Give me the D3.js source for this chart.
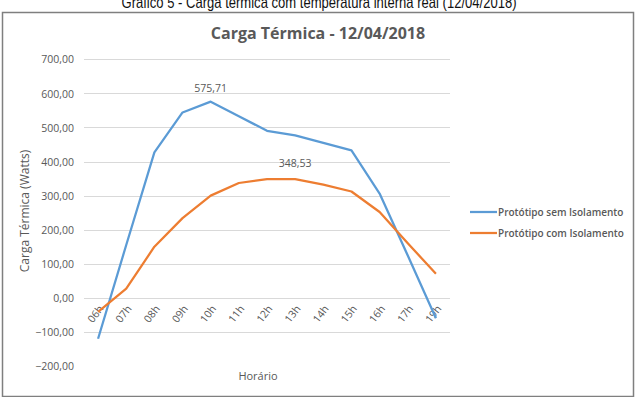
<!DOCTYPE html>
<html><head><meta charset="utf-8">
<script src="https://cdn.jsdelivr.net/npm/d3@7"></script>
<style>body{margin:0;background:#fff}svg{display:block}</style>
</head><body>
<svg id="c" width="639" height="397"></svg>
<script>
const categories = ["06h","07h","08h","09h","10h","11h","12h","13h","14h","15h","16h","17h","19h"];
const semIsolamento = [-120, 155, 427, 544, 575.71, 533, 490, 477, 455, 433, 306, 124, -60];
const comIsolamento = [-41, 27, 150, 234, 300, 337, 348.5, 348.53, 332, 312, 252, 160, 71];
const seriesNames = ["Protótipo sem Isolamento", "Protótipo com Isolamento"];
const yTicks = [-200, -100, 0, 100, 200, 300, 400, 500, 600, 700];
const gridTicks = [-100, 0, 100, 200, 300, 400, 500, 600, 700];
const colors = ["#5B9BD5", "#ED7D31"];

const svg = d3.select("#c");
const font = "'Open Sans', sans-serif";

// outer caption (cropped at top, as in the source)
svg.append("text").attr("x", 319).attr("y", 8).attr("text-anchor", "middle")
  .attr("font-family", "'Liberation Sans', Arial, sans-serif").attr("font-size", 17).attr("fill", "#111")
  .attr("textLength", 395).attr("lengthAdjust", "spacingAndGlyphs")
  .text("Gráfico 5 - Carga térmica com temperatura interna real (12/04/2018)");

// chart border
svg.append("rect").attr("x", 2.5).attr("y", 12.5).attr("width", 631).attr("height", 384)
  .attr("fill", "#fff").attr("stroke", "#7f7f7f").attr("stroke-width", 1.5);

const x = d3.scaleBand().domain(categories).range([84, 450]);
const y = d3.scaleLinear().domain([-200, 700]).range([366, 59.3]);

// title
svg.append("text").attr("x", 318).attr("y", 39).attr("text-anchor", "middle")
  .attr("font-family", font).attr("font-weight", "bold").attr("font-size", 16).attr("fill", "#595959")
  .text("Carga Térmica - 12/04/2018");

// gridlines
svg.append("g").selectAll("line").data(gridTicks).join("line")
  .attr("x1", 84).attr("x2", 450)
  .attr("y1", d => Math.round(y(d)) + 0.5).attr("y2", d => Math.round(y(d)) + 0.5)
  .attr("stroke", "#d9d9d9").attr("stroke-width", 1);

// y axis labels
const yAxis = d3.axisLeft(y).tickValues(yTicks).tickSize(0).tickPadding(0)
  .tickFormat(d => d3.format(",.2f")(d).replace(".", "#").replace(",", ".").replace("#", ","));
const ga = svg.append("g").attr("transform", "translate(74,0)").call(yAxis);
ga.select(".domain").remove();
ga.selectAll("text").attr("font-family", font).attr("font-size", 10.5).attr("fill", "#595959")
  .attr("dy", "0.35em");

// y axis title
svg.append("text").attr("transform", "translate(29,211) rotate(-90)").attr("text-anchor", "middle")
  .attr("font-family", font).attr("font-size", 12).attr("fill", "#595959")
  .text("Carga Térmica (Watts)");

// x axis labels
const xAxis = d3.axisBottom(x).tickSize(0).tickPadding(0);
const gx = svg.append("g").attr("transform", "translate(0," + y(0) + ")").call(xAxis);
gx.select(".domain").remove();
gx.selectAll("text").attr("font-family", font).attr("font-size", 10.5).attr("fill", "#595959")
  .attr("text-anchor", "end").attr("dy", 0).attr("y", 0)
  .attr("transform", "translate(6,11) rotate(-52)");

// x axis title
svg.append("text").attr("x", 258).attr("y", 380).attr("text-anchor", "middle")
  .attr("font-family", font).attr("font-size", 11).attr("fill", "#595959").text("Horário");

// lines
const line = d3.line().x((d, i) => x(categories[i]) + x.bandwidth() / 2).y(d => y(d));
[semIsolamento, comIsolamento].forEach((s, k) => {
  svg.append("path").datum(s).attr("d", line).attr("fill", "none")
    .attr("stroke", colors[k]).attr("stroke-width", 2.25).attr("stroke-linejoin", "round");
});

// data labels
const fmt = d => d3.format(".2f")(d).replace(".", ",");
svg.append("text").attr("x", x("10h") + x.bandwidth() / 2).attr("y", y(575.71) - 10).attr("text-anchor", "middle")
  .attr("font-family", font).attr("font-size", 10.5).attr("fill", "#595959").text(fmt(575.71));
svg.append("text").attr("x", x("13h") + x.bandwidth() / 2).attr("y", y(348.53) - 12).attr("text-anchor", "middle")
  .attr("font-family", font).attr("font-size", 10.5).attr("fill", "#595959").text(fmt(348.53));

// legend
const lg = svg.append("g");
seriesNames.forEach((n, k) => {
  const ly = 212 + k * 21;
  lg.append("line").attr("x1", 470).attr("x2", 497).attr("y1", ly).attr("y2", ly)
    .attr("stroke", colors[k]).attr("stroke-width", 2.25);
  lg.append("text").attr("x", 498).attr("y", ly).attr("dy", "0.35em")
    .attr("font-family", font).attr("font-size", 10).attr("font-weight", 600).attr("fill", "#595959").text(n);
});
</script>
</body></html>
